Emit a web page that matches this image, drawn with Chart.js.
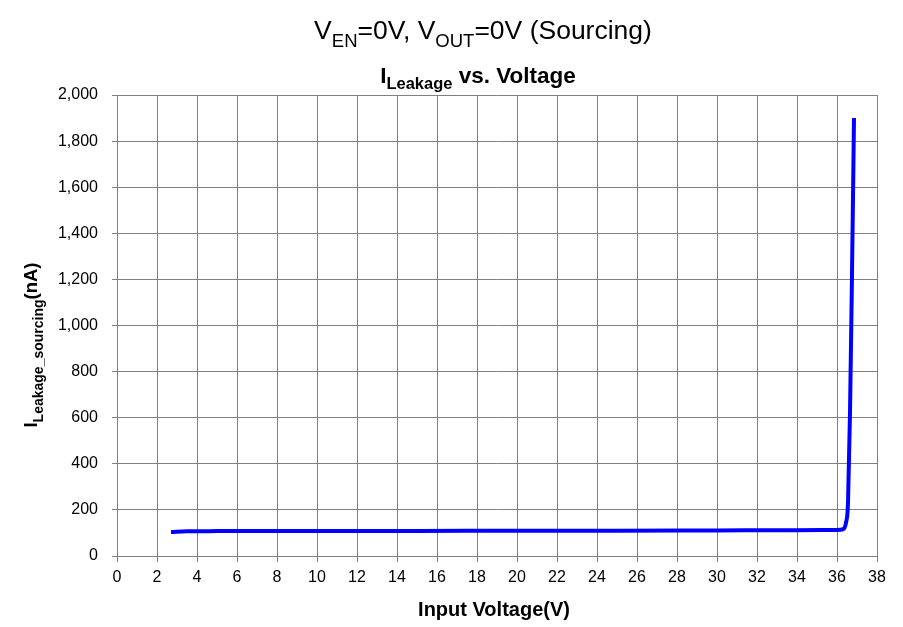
<!DOCTYPE html>
<html>
<head>
<meta charset="utf-8">
<script src="https://cdn.jsdelivr.net/npm/chart.js@4/dist/chart.umd.min.js"></script>
<style>
  html, body { margin: 0; padding: 0; background: #fff; }
  #wrap { width: 903px; height: 627px; position: relative; }
</style>
</head>
<body>
<div id="wrap"><canvas id="chart"></canvas></div>
<script>
// Leakage current (sourcing) vs input voltage
const voltage = [2.7, 3.5, 5, 10, 15, 20, 25, 30, 34, 36, 36.3, 36.45, 36.55, 36.65, 36.75, 36.85];
const leakage = [104, 107, 108, 109, 109, 110, 110, 111, 112, 113, 116, 145, 230, 620, 1220, 1900];

const FONT = '"Liberation Sans", Arial, sans-serif';

// draws a run of text pieces, some of them lowered as subscripts
function drawRich(ctx, parts, x, y, align) {
    let total = 0;
    parts.forEach(p => {
        ctx.font = (p.bold ? 'bold ' : '') + p.size + 'px ' + FONT;
        p.w = ctx.measureText(p.text).width;
        total += p.w;
    });
    let cx = align === 'center' ? x - total / 2 : x;
    parts.forEach(p => {
        ctx.font = (p.bold ? 'bold ' : '') + p.size + 'px ' + FONT;
        ctx.fillText(p.text, cx, y + (p.dy || 0));
        cx += p.w;
    });
}

const titlesPlugin = {
    id: 'titles',
    afterDraw(chart) {
        const ctx = chart.ctx;
        ctx.save();
        ctx.fillStyle = '#000';
        ctx.textAlign = 'left';
        ctx.textBaseline = 'alphabetic';

        drawRich(ctx, [
            { text: 'V', size: 26.5 },
            { text: 'EN', size: 18.5, dy: 8 },
            { text: '=0V, V', size: 26.5 },
            { text: 'OUT', size: 18.5, dy: 8 },
            { text: '=0V (Sourcing)', size: 26.5 }
        ], 483, 39, 'center');

        drawRich(ctx, [
            { text: 'I', size: 22.5, bold: true },
            { text: 'Leakage', size: 16.5, bold: true, dy: 6 },
            { text: ' vs. Voltage', size: 22.5, bold: true }
        ], 478, 83, 'center');

        drawRich(ctx, [
            { text: 'Input Voltage(V)', size: 20, bold: true }
        ], 494, 616, 'center');

        ctx.translate(37, 345);
        ctx.rotate(-Math.PI / 2);
        drawRich(ctx, [
            { text: 'I', size: 18.5, bold: true },
            { text: 'Leakage_sourcing', size: 14, bold: true, dy: 6 },
            { text: '(nA)', size: 18.5, bold: true }
        ], 0, 0, 'center');
        ctx.restore();
    }
};

new Chart(document.getElementById('chart'), {
    type: 'line',
    data: {
        datasets: [{
            data: voltage.map((v, i) => ({ x: v, y: leakage[i] })),
            borderColor: '#0000ff',
            borderWidth: 4,
            pointRadius: 0,
            cubicInterpolationMode: 'monotone',
            fill: false
        }]
    },
    options: {
        responsive: true,
        maintainAspectRatio: false,
        animation: false,
        layout: { padding: { top: 95, right: 26, left: 0, bottom: 0 } },
        plugins: { legend: { display: false }, tooltip: { enabled: false } },
        scales: {
            x: {
                type: 'linear',
                min: 0,
                max: 38,
                afterFit: s => { s.height = 71; },
                border: { color: '#808080', width: 1 },
                grid: { color: '#808080', lineWidth: 1, tickLength: 6, drawTicks: true },
                ticks: { stepSize: 2, color: '#000', padding: 6, font: { family: FONT, size: 16 }, maxRotation: 0 }
            },
            y: {
                min: 0,
                max: 2000,
                afterFit: s => { s.width = 117; },
                border: { color: '#808080', width: 1 },
                grid: { color: '#808080', lineWidth: 1, tickLength: 5, drawTicks: true },
                ticks: {
                    stepSize: 200, color: '#000', padding: 14, font: { family: FONT, size: 16 },
                    callback: v => v.toLocaleString('en-US')
                }
            }
        }
    },
    plugins: [titlesPlugin]
});
</script>
</body>
</html>
